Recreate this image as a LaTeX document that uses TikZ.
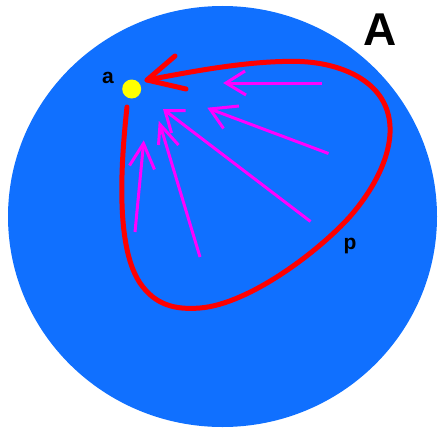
\documentclass[tikz,border=0pt]{standalone}
\usepackage{fontspec}
\setmainfont{Liberation Sans}
\definecolor{bgblue}{RGB}{16,112,255}
\definecolor{pred}{RGB}{255,0,0}
\definecolor{pmag}{RGB}{255,0,255}
\definecolor{pyel}{RGB}{255,255,0}
\tikzset{
  loopline/.style={draw=pred, line width=5pt, line cap=round, line join=round},
  flowline/.style={draw=pmag, line width=3pt, line cap=butt, line join=miter},
  lbl/.style={font=\bfseries\fontsize{21}{21}\selectfont, text=black, inner sep=0pt}
}
\begin{document}
\begin{tikzpicture}[x=1pt,y=-1pt]
\useasboundingbox (0,0) rectangle (438,428);
% blue disc
\fill[bgblue] (222.5,216.5) ellipse [x radius=214.5, y radius=210.5];
% red loop
\coordinate (s) at (127,107);
\coordinate (tip) at (147,80);
\draw[loopline] (127,107) .. controls (119,180) and (118,250) .. (140,283)
  .. controls (155,305) and (175,310) .. (200,308)
  .. controls (250,304) and (320,250) .. (350,216.5)
  .. controls (375,188) and (395,150) .. (389,118)
  .. controls (382,80) and (340,63) .. (300,61.5)
  .. controls (250,60) and (190,72) .. (147,80);
\coordinate (rb1) at (175,56);
\coordinate (rb2) at (186,89);
\draw[loopline] (rb1) -- (tip) -- (rb2);
% yellow point
\node[circle, fill=pyel, minimum size=19pt, inner sep=0pt] (dot) at (131.7,89) {};
\node[lbl] (la) at (108,78) {a};
\node[lbl] (lp) at (350,246) {p};
\node[lbl, font=\bfseries\fontsize{46}{46}\selectfont] (lA) at (380,30) {A};
% magenta arrows
\coordinate (m1s) at (322,83); \coordinate (m1t) at (226,83);
\coordinate (m1a) at (245,71); \coordinate (m1b) at (246,95);
\draw[flowline] (m1s) -- (m1t);
\draw[flowline] (m1a) -- (m1t) -- (m1b);
\coordinate (m2s) at (328.5,153.5); \coordinate (m2t) at (210,109);
\coordinate (m2a) at (239,106); \coordinate (m2b) at (223.5,128.5);
\draw[flowline] (m2s) -- (m2t);
\draw[flowline] (m2a) -- (m2t) -- (m2b);
\coordinate (m3s) at (310.5,221.5); \coordinate (m3t) at (165,110.5);
\coordinate (m3a) at (185.5,110.5); \coordinate (m3b) at (171.5,133);
\draw[flowline] (m3s) -- (m3t);
\draw[flowline] (m3a) -- (m3t) -- (m3b);
\coordinate (m4s) at (200,257); \coordinate (m4t) at (160,124.5);
\coordinate (m4a) at (158.5,145); \coordinate (m4b) at (178.5,145);
\draw[flowline] (m4s) -- (m4t);
\draw[flowline] (m4a) -- (m4t) -- (m4b);
\coordinate (m5s) at (135,232); \coordinate (m5t) at (143.5,143.5);
\coordinate (m5a) at (129.5,165.5); \coordinate (m5b) at (154.5,169.5);
\draw[flowline] (m5s) -- (m5t);
\draw[flowline] (m5a) -- (m5t) -- (m5b);
\end{tikzpicture}
\end{document}
